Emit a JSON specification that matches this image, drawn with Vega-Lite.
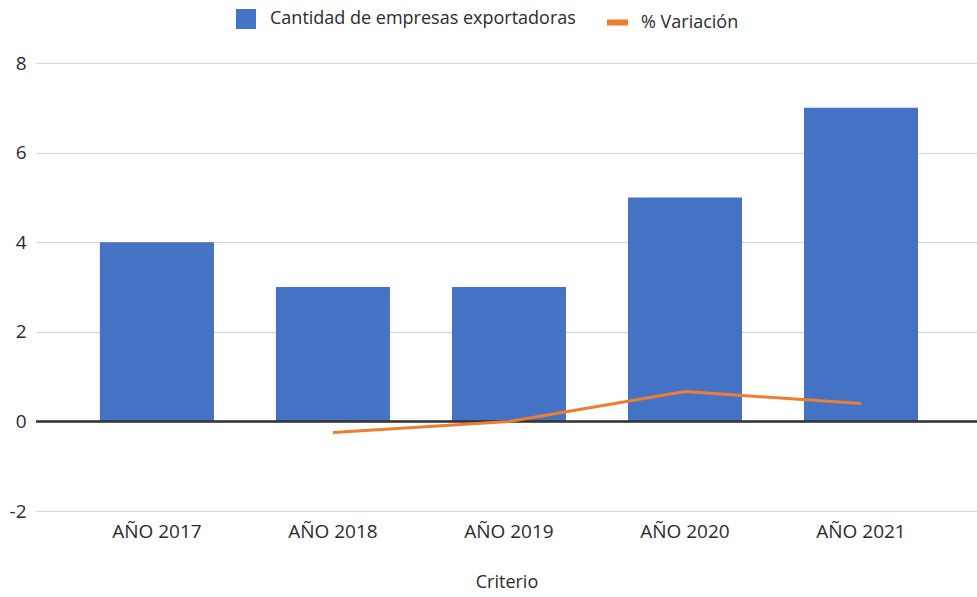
{
  "$schema": "https://vega.github.io/schema/vega-lite/v6.json",
  "width": 941,
  "height": 448,
  "autosize": {"type": "none"},
  "padding": {"left": 36, "top": 63, "right": 0, "bottom": 86},
  "background": "white",
  "config": {
    "font": "Open Sans",
    "view": {"stroke": null},
    "axis": {"labelFont": "Open Sans", "labelFontSize": 19, "labelColor": "#2b2b2b", "titleFont": "Open Sans", "titleFontSize": 18, "titleColor": "#2b2b2b", "titleFontWeight": "normal"},
    "legend": {"labelFont": "Open Sans", "labelFontSize": 18, "labelColor": "#2b2b2b", "labelLimit": 0}
  },
  "data": {
    "values": [
      {"Criterio": "AÑO 2017", "Cantidad": 4, "Variacion": null},
      {"Criterio": "AÑO 2018", "Cantidad": 3, "Variacion": -0.25},
      {"Criterio": "AÑO 2019", "Cantidad": 3, "Variacion": 0},
      {"Criterio": "AÑO 2020", "Cantidad": 5, "Variacion": 0.667},
      {"Criterio": "AÑO 2021", "Cantidad": 7, "Variacion": 0.4}
    ]
  },
  "layer": [
    {
      "mark": {"type": "bar"},
      "encoding": {
        "x": {
          "field": "Criterio",
          "type": "nominal",
          "sort": null,
          "scale": {"paddingInner": 0.352, "paddingOuter": 0.349, "align": 0.52},
          "axis": {"domain": false, "ticks": false, "grid": false, "labelAngle": 0, "labelPadding": 11, "title": "Criterio", "titlePadding": 32}
        },
        "y": {
          "field": "Cantidad",
          "type": "quantitative",
          "scale": {"domain": [-2, 8], "nice": false, "zero": false},
          "axis": {"title": null, "domain": false, "ticks": false, "grid": true, "gridColor": "#d4d4d4", "gridWidth": 1, "labelPadding": 10, "values": [-2, 0, 2, 4, 6, 8], "labelExpr": "datum.value < 0 ? '-' + abs(datum.value) : '' + datum.value"}
        },
        "fill": {
          "datum": "Cantidad de empresas exportadoras",
          "type": "nominal",
          "scale": {"range": ["#4472C4"]},
          "legend": {"orient": "none", "legendX": 200, "legendY": -54, "title": null, "symbolType": "square", "symbolSize": 400, "symbolStrokeWidth": 0, "labelOffset": 14}
        }
      }
    },
    {
      "mark": {"type": "rule", "color": "#333333", "strokeWidth": 1.5},
      "encoding": {"y": {"datum": 0}}
    },
    {
      "mark": {"type": "line", "strokeWidth": 3},
      "encoding": {
        "x": {"field": "Criterio", "type": "nominal", "sort": null},
        "y": {"field": "Variacion", "type": "quantitative"},
        "stroke": {
          "datum": "% Variación",
          "type": "nominal",
          "scale": {"range": ["#ED7D31"]},
          "legend": {"orient": "none", "legendX": 568, "legendY": -54, "title": null, "symbolType": "stroke", "symbolSize": 441, "symbolStrokeWidth": 6, "labelOffset": 10}
        }
      }
    }
  ]
}
